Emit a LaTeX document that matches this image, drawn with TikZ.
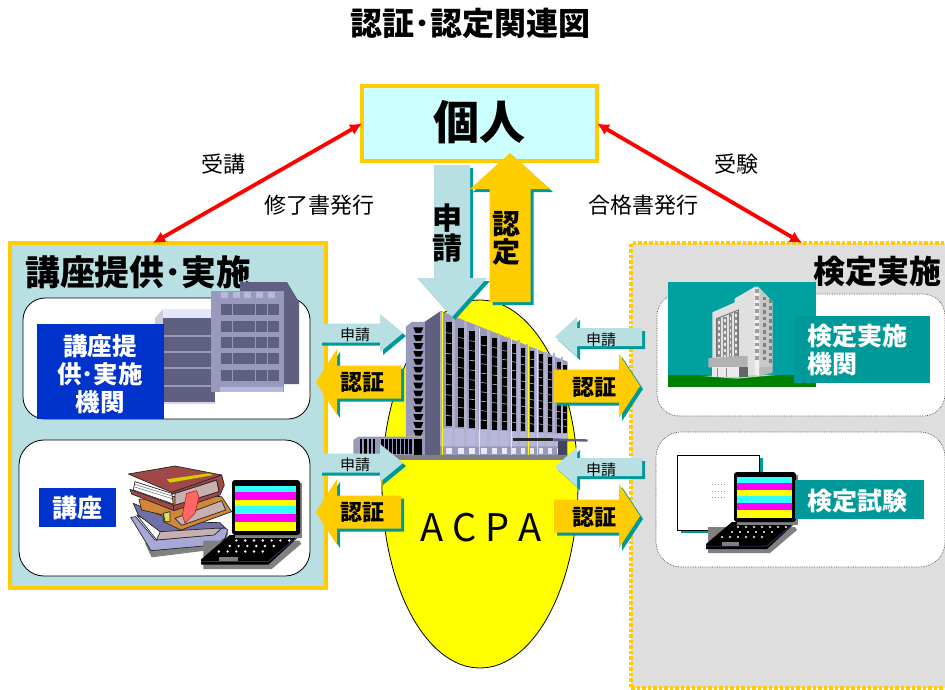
\documentclass[tikz,border=0pt]{standalone}
\usepackage{fontspec}
\setmainfont{Noto Sans CJK JP}
\usetikzlibrary{arrows.meta,shapes.geometric}
\definecolor{paleteal}{HTML}{B8DFE1}
\definecolor{darkteal}{HTML}{009999}
\definecolor{hotelteal}{HTML}{00A0A0}
\definecolor{amber}{HTML}{FFCC00}
\definecolor{paleblue}{HTML}{CCFFFF}
\definecolor{royal}{HTML}{0033CC}
\definecolor{slate}{HTML}{5F5F80}
\definecolor{lilac}{HTML}{9999BB}
\definecolor{lightlilac}{HTML}{B8B8DD}
\definecolor{pureyellow}{HTML}{FFFF00}
\definecolor{purecyan}{HTML}{33FFFF}
\definecolor{puremagenta}{HTML}{FF00FF}
\definecolor{purered}{HTML}{FF0000}
\definecolor{lawn}{HTML}{008000}
\definecolor{maroon}{HTML}{A04848}
\definecolor{bookorange}{HTML}{D08838}
\definecolor{bookblue}{HTML}{7070A8}
\definecolor{booklav}{HTML}{A8A8D8}
\definecolor{bookpage}{HTML}{C8B0B0}
\newcommand{\fs}[1]{\fontsize{#1}{#1}\selectfont}
% block arrow: tail, angle, length, half shaft, half head, head length, colour
\newcommand{\blockarrow}[7]{
  \fill[darkteal,shift={(#1)},xshift=3pt,yshift=-3pt,rotate=#2] (0,-#4) -- ({#3-#6},-#4) -- ({#3-#6},-#5) -- (#3,0) -- ({#3-#6},#5) -- ({#3-#6},#4) -- (0,#4) -- cycle;
  \fill[#7,shift={(#1)},rotate=#2] (0,-#4) -- ({#3-#6},-#4) -- ({#3-#6},-#5) -- (#3,0) -- ({#3-#6},#5) -- ({#3-#6},#4) -- (0,#4) -- cycle;
}
\tikzset{
  plaintxt/.style={inner sep=0pt,font=\fs{22}},
  arrowtxt/.style={inner sep=0pt,font=\fs{22}\bfseries},
  smalltxt/.style={inner sep=0pt,font=\fs{15}},
  boxtxt/.style={inner sep=0pt,text=white,font=\bfseries},
  corner/.style={anchor=north west,inner sep=0pt,outer sep=0pt},
  whitebox/.style={corner,fill=white,rounded corners=22pt},
  bookpart/.style={draw=black!85,line width=.7pt,line join=round},
  redline/.style={purered,line width=3.8pt,{Latex[length=12pt,width=12pt]}-{Latex[length=12pt,width=12pt]}},
  laptop/.pic={
    \fill[gray] (-26,55) -- (61,55) -- (63,58) -- (36,81) -- (-26,81) -- cycle;
    \fill[black] (-2,50) -- (58,50) -- (60,52) -- (33,77) -- (-28,77) -- (-28,72) -- cycle;
    \draw[gray!60!blue,line width=.5pt] (-28,74) -- (33,74) -- (59,52);
    \foreach \kx in {-4,4,12,20,28,36,44} \fill[white] (\kx+8,55) circle (1.2);
    \foreach \kx in {-8,0,8,16,24,32} \fill[white] (\kx+6,60) circle (1.2);
    \foreach \kx in {-14,-6,2,10,18,26} \fill[white] (\kx+2,65) circle (1.2);
    \fill[gray] (-12,70) rectangle (5,74);
    \fill[gray] (3,3) rectangle (64,53);
    \fill[black,rounded corners=3pt] (0,0) rectangle (62,50);
    \fill[purecyan] (3,5) rectangle (58,11);
    \fill[puremagenta] (3,11) rectangle (58,18);
    \fill[pureyellow] (3,18) rectangle (58,24);
    \fill[purecyan] (3,24) rectangle (58,31);
    \fill[puremagenta] (3,31) rectangle (58,38);
    \fill[pureyellow] (3,38) rectangle (58,46);
  }
}
\begin{document}
\begin{tikzpicture}[x=1pt,y=-1pt]
  \clip (0,0) rectangle (945,690);
  \fill[white] (0,0) rectangle (945,690);
  % title
  \node[inner sep=0pt,font=\fs{32}\bfseries] (title) at (470,23) {認証･認定関連図};
  % frames
  \node[corner,fill=paleteal,draw=amber,line width=3.5pt,minimum width=316pt,minimum height=345pt] (provider) at (10,243) {};
  \node[corner,fill=black!13,draw=amber,line width=3.5pt,dotted,minimum width=330pt,minimum height=445pt] (exam) at (631,243) {};
  \node[corner,fill=paleblue,draw=amber,line width=3.5pt,minimum width=235pt,minimum height=75pt] (person) at (362,86) {};
  \node[inner sep=0pt,font=\fs{46}\bfseries] (personlabel) at (479,122) {個人};
  \coordinate (provtop) at (153,243);
  \coordinate (examtop) at (802,243);
  \draw[redline] (person.west) -- (provtop);
  \draw[redline] (person.east) -- (examtop);
  \node[plaintxt] (jukou) at (223,164) {受講};
  \node[plaintxt] (juken) at (736,164) {受験};
  \node[plaintxt] (shuryo) at (319,205) {修了書発行};
  \node[plaintxt] (gokaku) at (643,205) {合格書発行};
  \node[inner sep=0pt,font=\fs{34.8}\bfseries,anchor=west] (provlabel) at (25,272) {講座提供･実施};
  \node[inner sep=0pt,font=\fs{32}\bfseries,anchor=east] (examlabel) at (942,271) {検定実施};
  % rounded boxes
  \node[whitebox,draw=black,line width=.8pt,minimum width=287pt,minimum height=121pt] (orgbox) at (23,298) {};
  \node[whitebox,draw=black,line width=.8pt,minimum width=291pt,minimum height=136pt,rounded corners=25pt] (coursebox) at (19,440) {};
  \node[whitebox,draw=black!70,line width=.7pt,densely dotted,minimum width=288pt,minimum height=122pt] (examorgbox) at (657,294) {};
  \node[whitebox,draw=black!70,line width=.7pt,densely dotted,minimum width=289pt,minimum height=135pt,rounded corners=25pt] (testbox) at (656,432) {};
  % building of the provider
  \fill[lilac!50!white] (155,318) -- (163,309) -- (215,309) -- (215,320) -- (155,330) -- cycle;
  \fill[black!12!blue!10!white] (163,309) rectangle (215,318);
  \fill[slate] (163,318) rectangle (215,402);
  \foreach \ry in {335,351,367,385} \fill[lilac] (163,\ry) rectangle (215,\ry+1.5);
  \fill[lightlilac!60!white] (163,402) rectangle (215,403.5);
  \fill[slate] (240,282) -- (287,282) -- (299,302) -- (299,384) -- (283,384) -- (240,300) -- cycle;
  \fill[lilac] (211,291) rectangle (284,392);
  \foreach \wy in {304,321,337,353,370} \foreach \wx in {221,233,244,256,268} \fill[slate] (\wx,\wy) rectangle (\wx+10.5,\wy+10.5);
  \foreach \wx in {221,233,244,256,268} \fill[lightlilac] (\wx,292) rectangle (\wx+7,298);
  \fill[lightlilac] (220,387) rectangle (283,392);
  \node[corner,fill=royal,minimum width=127pt,minimum height=95pt] (orgtag) at (37,324) {};
  \node[boxtxt,align=center] (orgtext) at (100,374.5) {\fs{24.5}\bfseries 講座提\\[3.5pt]\fs{24.5}\bfseries 供･実施\\[3.5pt]\fs{24.5}\bfseries 機関};
  \node[corner,fill=royal,minimum width=77pt,minimum height=39pt] (coursetag) at (39,488) {};
  \node[boxtxt,font=\fs{25}\bfseries] (coursetext) at (77,508) {講座};
  % books
  \begin{scope}[shift={(125,460)},x=.3333pt,y=-.3333pt]
    \fill[black!50] (80,292) -- (240,272) -- (305,240) -- (310,215) -- (60,250) -- cycle;
    \filldraw[bookpart,fill=booklav] (17,172) -- (78,272) -- (270,255) -- (300,235) -- (308,210) -- (285,190) -- (280,215) -- (260,225) -- (90,240) -- (32,170) -- cycle;
    \filldraw[bookpart,fill=bookpage] (95,205) -- (285,190) -- (290,205) -- (268,225) -- (95,240) -- cycle;
    \filldraw[bookpart,fill=white] (35,165) -- (110,205) -- (95,240) -- cycle;
    \filldraw[bookpart,fill=bookblue] (25,130) -- (150,185) -- (285,188) -- (300,205) -- (270,205) -- (105,215) -- (40,165) -- cycle;
    \filldraw[bookpart,fill=bookorange] (42,118) -- (200,105) -- (290,110) -- (320,155) -- (168,210) -- (130,192) -- (115,185) -- (115,165) -- (50,150) -- cycle;
    \filldraw[bookpart,fill=bookpage] (150,175) -- (290,122) -- (302,150) -- (170,196) -- cycle;
    \filldraw[bookpart,fill=booklav!40!yellow] (115,160) -- (135,155) -- (135,185) -- (120,185) -- cycle;
    \filldraw[bookpart,fill=maroon] (15,88) -- (145,135) -- (147,152) -- (20,102) -- cycle;
    \filldraw[bookpart,fill=bookpage] (150,100) -- (275,60) -- (282,95) -- (150,137) -- cycle;
    \filldraw[bookpart,fill=white] (30,65) -- (140,100) -- (145,132) -- (25,90) -- cycle;
    \foreach \ln in {8,16} \draw[black!60,line width=.5pt] (29,{65+\ln}) -- (142,{100+\ln});
    \filldraw[bookpart,fill=maroon] (140,95) -- (290,45) -- (298,75) -- (285,105) -- (147,152) -- (145,137) -- (283,95) -- (275,60) -- (140,103) -- cycle;
    \filldraw[bookpart,fill=maroon] (10,42) -- (150,18) -- (290,45) -- (140,97) -- cycle;
    \fill[olive!35!pureyellow] (125,58) -- (250,40) -- (265,45) -- (135,68) -- cycle;
    \filldraw[draw=purered!60!black,line width=.4pt,fill=purered!60!white] (185,100) -- (215,92) -- (222,112) -- (210,160) -- (180,190) -- (172,165) -- cycle;
  \end{scope}
  \pic[scale=1.1] at (232,480) {laptop};
  % hotel and test sheet
  \fill[hotelteal] (668,282) rectangle (816,375);
  \fill[lawn] (668,375) rectangle (816,387);
  \begin{scope}[shift={(665,280)},x=.3333pt,y=-.3333pt]
    \fill[white!70!lawn] (110,288) -- (245,283) -- (335,285) -- (215,296) -- cycle;
    \fill[black!12] (142,97) -- (208,68) -- (210,55) -- (270,20) -- (280,285) -- (142,290) -- cycle;
    \fill[black!22] (270,20) -- (280,20) -- (323,65) -- (323,260) -- (280,288) -- cycle;
    \fill[black!6] (268,22) -- (283,28) -- (283,288) -- (270,285) -- cycle;
    \foreach \kc in {28,48,...,228} \fill[black!38] (271,\kc) rectangle (282,\kc+11);
    \foreach \kc in {50,70,...,230} {
      \fill[black!50] (295,\kc) rectangle (303,\kc+11);
      \fill[black!50] (311,{\kc+8}) rectangle (320,{\kc+19});
    }
    \fill[black!28] (283,262) -- (323,260) -- (323,278) -- (283,288) -- cycle;
    \foreach \ka/\kb/\kd in {156/168/115,175/185/110,192/202/103,208/218/95} {
      \fill[black!45] (\ka,\kd) rectangle (\kb,230);
      \foreach \ke in {0,1,...,6} \fill[black!8] (\ka+3,{\kd+8+\ke*18}) rectangle (\kb-3,{\kd+17+\ke*18});
    }
    \draw[black!55,line width=.9pt] (155,232) -- (155,116) -- (220,90) -- (220,230);
    \fill[black!30] (130,235) -- (220,228) -- (248,228) -- (248,265) -- (130,262) -- cycle;
    \fill[black!8] (140,262) rectangle (222,290);
    \foreach \kf in {155,183} \fill[black!45] (\kf,264) rectangle (\kf+3,290);
    \fill[black!60] (222,262) rectangle (248,290);
  \end{scope}
  \fill[darkteal] (681,458) rectangle (763,533);
  \node[corner,fill=white,draw=black,line width=.8pt,minimum width=82pt,minimum height=75pt] (sheet) at (677.5,455) {};
  \foreach \sy in {484,491,497} \draw[black!40,line width=1pt,dash pattern=on 1pt off 2pt] (712,\sy) -- (725,\sy);
  \pic at (734,472) {laptop};
  \node[corner,fill=darkteal,minimum width=136pt,minimum height=67pt] (examorgtag) at (794,316) {};
  \node[boxtxt,align=left,anchor=west] (examorgtext) at (807,350) {\fs{25}\bfseries 検定実施\\[3pt]\fs{25}\bfseries 機関};
  \node[corner,fill=darkteal,minimum width=129pt,minimum height=39pt] (testtag) at (795,480) {};
  \node[boxtxt,font=\fs{25}\bfseries] (testtext) at (857,501) {検定試験};
  % ACPA ellipse
  \node[ellipse,draw=black,line width=.8pt,fill=pureyellow,inner sep=0pt,minimum width=196pt,minimum height=368pt] (acpa) at (480,484) {};
  \node[inner sep=0pt,font=\fs{38}] (acpatext) at (481,528) {A\hspace{9pt}C\hspace{9pt}P\hspace{9pt}A};
  % main building, left wing and tower
  \begin{scope}[shift={(310,150)},x=.3333pt,y=-.3333pt]
    \fill[lilac] (130,915) -- (130,870) -- (145,860) -- (345,860) -- (345,915) -- cycle;
    \foreach \bar in {150,163,176,189,214,226,238,250,262,274,286,298} \fill[black] (\bar,868) rectangle (\bar+7,912);
    \fill[black] (312,868) rectangle (335,915);
    \fill[lilac] (288,530) -- (305,516) -- (345,516) -- (345,860) -- (288,860) -- cycle;
    \foreach \fl in {0,...,13} \fill[black] (310,{532+\fl*23.7}) -- (340,{532+\fl*23.7}) -- (333,{549+\fl*23.7}) -- (317,{549+\fl*23.7}) -- cycle;
  \end{scope}
  % main building, long face
  \begin{scope}[shift={(400,305)},x=.3333pt,y=-.3333pt]
    \fill[slate] (75,50) -- (122,18) -- (122,450) -- (75,450) -- cycle;
    \fill[lilac] (122,18) -- (503,170) -- (503,450) -- (122,450) -- cycle;
    \fill[lightlilac] (127,368) -- (503,388) -- (503,424) -- (127,424) -- cycle;
    \foreach \fin/\tp in {125/20,160/38,197/48,230/63,265/75,297/85,327/95,355/105,383/118,408/128,436/140,462/145,486/155} {
      \fill[lilac!75!white] (\fin-4,\tp) rectangle (\fin+4,424);
    }
    \foreach \fin/\tp in {125/20,235/70,330/100,383/118,408/128} \draw[pureyellow,line width=.8pt] (\fin+3,\tp) -- (\fin+3,450);
    \foreach \xa/\xb/\yt/\yb in {137/155/52/362,175/192/68/367,208/225/78/370,243/260/92/373,277/292/100/375,307/321/110/375,335/348/118/377,363/375/128/378,390/402/138/380,417/428/147/380,445/455/155/382,470/482/170/383,490/500/180/383} {
      \fill[black] (\xa,\yt) rectangle (\xb,\yb);
      \foreach \fy in {1,...,9} \draw[lightlilac,line width=.6pt] (\xa,{\yt+\fy*(\yb-\yt)/10}) -- (\xb,{\yt+\fy*(\yb-\yt)/10+2});
      \fill[white!70!lightlilac] (\xa,428) rectangle (\xb,448);
    }
    \fill[slate!70!black] (473,408) rectangle (500,452);
    \fill[black!85] (338,398) rectangle (460,408);
    \fill[slate] (460,400) -- (563,403) -- (563,410) -- (460,408) -- cycle;
    \fill[black!50] (-30,450) -- (530,450) -- (510,465) -- (-30,465) -- cycle;
  \end{scope}
  % block arrows
  \blockarrow{452,165}{-90}{152}{18}{35}{39}{paleteal}
  \blockarrow{510,302}{90}{149}{20.5}{40}{36}{amber}
  \node[inner sep=0pt,font=\fs{30}\bfseries,align=center] (apply) at (447,233) {\fs{30}\bfseries 申\\\fs{30}\bfseries 請};
  \node[inner sep=0pt,font=\fs{28}\bfseries,align=center] (certify) at (506,238) {\fs{28}\bfseries 認\\\fs{28}\bfseries 定};
  \foreach \dy/\nm in {0/a,130/b} {
    \blockarrow{319,333+\dy}{0}{84}{9.5}{19}{23}{paleteal}
    \blockarrow{401,382+\dy}{180}{85}{16.5}{33}{21}{amber}
    \blockarrow{642,337+\dy}{180}{87}{9}{20}{22}{paleteal}
    \blockarrow{554,386+\dy}{0}{86}{16.5}{32}{21}{amber}
    \node[smalltxt] (left\nm) at (355,335+\dy) {申請};
    \node[arrowtxt] (leftcert\nm) at (362,382+\dy) {認証};
    \node[smalltxt] (right\nm) at (601,340+\dy) {申請};
    \node[arrowtxt] (rightcert\nm) at (594,387+\dy) {認証};
  }
\end{tikzpicture}
\end{document}
